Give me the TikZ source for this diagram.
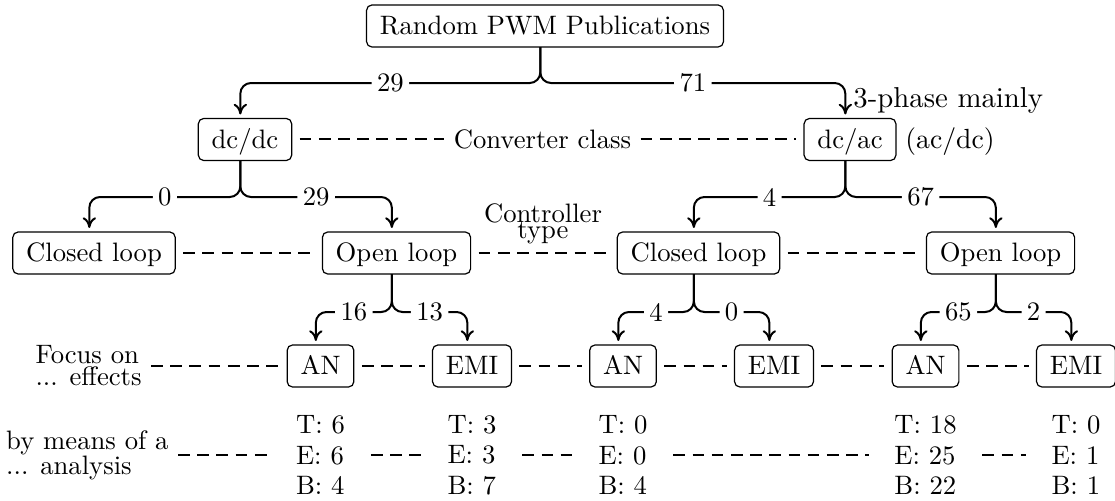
\documentclass[tikz,border=0pt]{standalone}
\usetikzlibrary{arrows.meta}
\begin{document}
\begin{tikzpicture}[x=0.375pt,y=-0.375pt,
  box/.style={draw, rounded corners=2pt, inner xsep=5pt, inner ysep=3.33pt,
    text height=7.9pt, text depth=1.2pt, outer xsep=3pt, outer ysep=0pt, line width=0.45pt},
  conn/.style={line width=0.75pt, rounded corners=4pt,
    -{To[length=4pt,width=5pt]}, shorten >=1.5pt},
  lbl/.style={fill=white, inner xsep=2pt, inner ysep=1pt},
  dl/.style={line width=0.75pt, dash pattern=on 4.4pt off 2.8pt},
  side/.style={inner sep=3.33pt},
  col/.style={align=left, inner xsep=9.5pt}]
\useasboundingbox (0,0) rectangle (1115,501);
\def\cx{-1.75pt}
% boxes
\node[box] (root) at (545,26) {Random PWM Publications};
\node[box] (dcdc) at (245,139.5) {dc/dc};
\node[box] (dcac) at (850,139.5) {dc/ac};
\node[side] (conv) at (542.5,139.5) {Converter class};
\node[anchor=base west, font=\fontsize{10.4}{12.5}\selectfont] (acdc) at ([xshift=-3pt]dcac.base east) {(ac/dc)};
\node[anchor=base west, font=\fontsize{10.8}{13}\selectfont] (phase) at (844,108) {3-phase mainly};
\node[box] (cl1) at (94,253) {Closed loop};
\node[box] (ol1) at (396.5,253) {Open loop};
\node[box] (cl2) at (698.5,253) {Closed loop};
\node[box] (ol2) at (1000.5,253) {Open loop};
\node[anchor=south, align=center] (ctype) at (543,253) {Controller\\[-6pt]type};
\node[box] (an1) at (320.5,366) {AN};
\node[box] (emi1) at (472,366) {EMI};
\node[box] (an2) at (623,366) {AN};
\node[box] (emi2) at (774,366) {EMI};
\node[box] (an3) at (925.5,366) {AN};
\node[box] (emi3) at (1076,366) {EMI};
\node[anchor=east, align=left] (focus) at (151,366) {Focus on\\[-3.75pt]... effects};
\node[anchor=east, align=left] (means) at (178,455) {by means of a\\[-2.6pt]... analysis};
\node[col] (c1) at (320.5,455) {T: 6\\[-0.5pt]E: 6\\[-0.5pt]B: 4};
\node[col] (c2) at (472,455) {T: 3\\[-0.5pt]E: 3\\[-0.5pt]B: 7};
\node[col] (c3) at (623,455) {T: 0\\[-0.5pt]E: 0\\[-0.5pt]B: 4};
\node[col] (c4) at (925.5,455) {T: 18\\[-0.5pt]E: 25\\[-0.5pt]B: 22};
\node[col] (c5) at (1076,455) {T: 0\\[-0.5pt]E: 1\\[-0.5pt]B: 1};
% dashed level lines
\draw[dl] (dcdc.east) -- (conv.west);
\draw[dl] (conv.east) -- (dcac.west);
\draw[dl] (cl1.east) -- (ol1.west);
\draw[dl] (ol1.east) -- (cl2.west);
\draw[dl] (cl2.east) -- (ol2.west);
\draw[dl] (focus.east) -- (an1.west);
\draw[dl] (an1.east) -- (emi1.west);
\draw[dl] (emi1.east) -- (an2.west);
\draw[dl] (an2.east) -- (emi2.west);
\draw[dl] (emi2.east) -- (an3.west);
\draw[dl] (an3.east) -- (emi3.west);
\draw[dl] (means.east) -- (c1.west);
\draw[dl] (c1.east) -- (c2.west);
\draw[dl] (c2.east) -- (c3.west);
\draw[dl] (c3.east) -- (c4.west);
\draw[dl] (c4.east) -- (c5.west);
% connectors
\draw[conn] ([xshift=\cx]root.south) -- ++(0,36) -| node[lbl,pos=0.25]{29} ([xshift=\cx]dcdc.north);
\draw[conn] ([xshift=\cx]root.south) -- ++(0,36) -| node[lbl,pos=0.25]{71} ([xshift=\cx]dcac.north);
\draw[conn] ([xshift=\cx]dcdc.south) -- ++(0,36.5) -| node[lbl,pos=0.25]{0} ([xshift=\cx]cl1.north);
\draw[conn] ([xshift=\cx]dcdc.south) -- ++(0,36.5) -| node[lbl,pos=0.25]{29} ([xshift=\cx]ol1.north);
\draw[conn] ([xshift=\cx]dcac.south) -- ++(0,36.5) -| node[lbl,pos=0.25]{4} ([xshift=\cx]cl2.north);
\draw[conn] ([xshift=\cx]dcac.south) -- ++(0,36.5) -| node[lbl,pos=0.25]{67} ([xshift=\cx]ol2.north);
\draw[conn] ([xshift=\cx]ol1.south) -- ++(0,38) -| node[lbl,pos=0.25]{16} ([xshift=\cx]an1.north);
\draw[conn] ([xshift=\cx]ol1.south) -- ++(0,38) -| node[lbl,pos=0.25]{13} ([xshift=\cx]emi1.north);
\draw[conn] ([xshift=\cx]cl2.south) -- ++(0,38) -| node[lbl,pos=0.25]{4} ([xshift=\cx]an2.north);
\draw[conn] ([xshift=\cx]cl2.south) -- ++(0,38) -| node[lbl,pos=0.25]{0} ([xshift=\cx]emi2.north);
\draw[conn] ([xshift=\cx]ol2.south) -- ++(0,38) -| node[lbl,pos=0.25]{65} ([xshift=\cx]an3.north);
\draw[conn] ([xshift=\cx]ol2.south) -- ++(0,38) -| node[lbl,pos=0.25]{2} ([xshift=\cx]emi3.north);
\end{tikzpicture}
\end{document}
